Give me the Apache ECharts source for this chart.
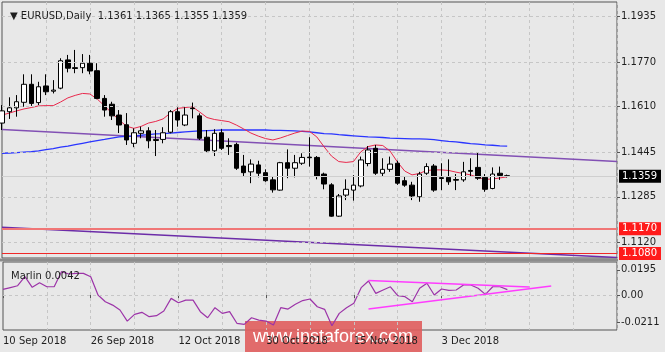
<!DOCTYPE html>
<html>
<head>
<meta charset="utf-8">
<script src="https://cdn.jsdelivr.net/npm/echarts@6/dist/echarts.min.js"></script>
<style>
  html, body { margin: 0; padding: 0; background: #e8e8e8; }
  #chart { width: 665px; height: 352px; }
</style>
</head>
<body>
<div id="chart"></div>
<script>
// EURUSD daily, 10 Sep 2018 .. 14 Dec 2018 (bar slots, extra empty slots on the right)
const slotCount = 85
const tickLabels = { 0: '10 Sep 2018', 12: '26 Sep 2018', 24: '12 Oct 2018', 36: '30 Oct 2018', 48: '15 Nov 2018', 60: '3 Dec 2018' }

const opens = [1.1551,1.1592,1.1606,1.1626,1.1691,1.1625,1.1685,1.1666,1.1677,1.1779,
  1.1751,1.1751,1.1767,1.1740,1.1640,1.1619,1.1580,1.1545,1.1478,1.1514,
  1.1523,1.1488,1.1492,1.1518,1.1592,1.1544,1.1605,1.1577,1.1500,1.1451,
  1.1516,1.1470,1.1474,1.1396,1.1375,1.1400,1.1372,1.1346,1.1309,1.1408,
  1.1388,1.1406,1.1428,1.1427,1.1367,1.1328,1.1215,1.1291,1.1309,1.1324,
  1.1405,1.1460,1.1370,1.1384,1.1406,1.1343,1.1327,1.1285,1.1370,1.1396,
  1.1354,1.1355,1.1347,1.1346,1.1380,1.1391,1.1355,1.1315,1.1370,1.1361]
const closes = [1.1595,1.1606,1.1628,1.1691,1.1622,1.1682,1.1664,1.1670,1.1776,1.1749,
  1.1748,1.1767,1.1739,1.1640,1.1598,1.1577,1.1544,1.1490,1.1516,1.1523,
  1.1487,1.1492,1.1516,1.1592,1.1562,1.1580,1.1603,1.1496,1.1451,1.1514,
  1.1460,1.1466,1.1388,1.1372,1.1403,1.1370,1.1343,1.1310,1.1408,1.1388,
  1.1408,1.1427,1.1426,1.1360,1.1331,1.1215,1.1288,1.1312,1.1327,1.1418,
  1.1454,1.1370,1.1384,1.1403,1.1334,1.1327,1.1288,1.1367,1.1394,1.1309,
  1.1351,1.1339,1.1345,1.1375,1.1377,1.1352,1.1312,1.1367,1.1362,1.1359]
const lows = [1.1526,1.1566,1.1574,1.1610,1.1613,1.1616,1.1652,1.1658,1.1673,1.1734,
  1.1731,1.1731,1.1727,1.1637,1.1574,1.1562,1.1515,1.1472,1.1464,1.1496,
  1.1460,1.1432,1.1478,1.1514,1.1538,1.1540,1.1568,1.1490,1.1444,1.1432,
  1.1454,1.1436,1.1382,1.1357,1.1334,1.1355,1.1339,1.1300,1.1307,1.1352,
  1.1355,1.1400,1.1394,1.1348,1.1312,1.1213,1.1213,1.1273,1.1271,1.1319,
  1.1395,1.1364,1.1357,1.1375,1.1328,1.1321,1.1273,1.1267,1.1364,1.1303,
  1.1309,1.1328,1.1309,1.1339,1.1357,1.1346,1.1303,1.1312,1.1346,1.1355]
const highs = [1.1616,1.1644,1.1652,1.1727,1.1727,1.1700,1.1727,1.1706,1.1785,1.1797,
  1.1815,1.1800,1.1797,1.1767,1.1652,1.1628,1.1598,1.1587,1.1532,1.1538,
  1.1536,1.1526,1.1536,1.1598,1.1608,1.1608,1.1625,1.1586,1.1526,1.1529,
  1.1529,1.1496,1.1480,1.1436,1.1420,1.1415,1.1384,1.1360,1.1411,1.1456,
  1.1436,1.1442,1.1500,1.1432,1.1372,1.1334,1.1295,1.1348,1.1363,1.1430,
  1.1468,1.1472,1.1424,1.1430,1.1415,1.1357,1.1339,1.1375,1.1406,1.1403,
  1.1406,1.1420,1.1367,1.1411,1.1424,1.1444,1.1367,1.1391,1.1394,1.1365]

// fast moving average (red)
const maFast = [1.1580,1.1587,1.1595,1.1602,1.1607,1.1613,1.1614,1.1614,1.1627,1.1642,
  1.1651,1.1658,1.1656,1.1638,1.1613,1.1587,1.1562,1.1540,1.1532,1.1539,
  1.1551,1.1557,1.1566,1.1587,1.1604,1.1607,1.1610,1.1591,1.1571,1.1564,
  1.1560,1.1556,1.1544,1.1530,1.1515,1.1504,1.1495,1.1490,1.1497,1.1506,
  1.1515,1.1522,1.1521,1.1501,1.1465,1.1432,1.1412,1.1409,1.1412,1.1447,
  1.1466,1.1472,1.1470,1.1450,1.1411,1.1378,1.1364,1.1369,1.1380,1.1382,
  1.1382,1.1380,1.1374,1.1369,1.1364,1.1355,1.1348,1.1349,1.1353,1.1357]
// slow moving average (blue)
const maSlow = [1.1442,1.1443,1.1444,1.1446,1.1448,1.1451,1.1455,1.1459,1.1464,1.1468,
  1.1473,1.1478,1.1483,1.1488,1.1492,1.1497,1.1501,1.1503,1.1504,1.1507,
  1.1509,1.1512,1.1513,1.1515,1.1517,1.1519,1.1521,1.1523,1.1524,1.1525,
  1.1526,1.1526,1.1526,1.1526,1.1526,1.1526,1.1526,1.1525,1.1525,1.1524,
  1.1523,1.1521,1.1519,1.1516,1.1513,1.1512,1.1509,1.1507,1.1505,1.1503,
  1.1501,1.1500,1.1499,1.1497,1.1496,1.1495,1.1494,1.1494,1.1493,1.1491,
  1.1488,1.1485,1.1483,1.1480,1.1477,1.1475,1.1472,1.1471,1.1469,1.1468]

// Marlin oscillator
const marlin = [0.0044,0.0058,0.0072,0.0142,0.0060,0.0095,0.0064,0.0064,0.0181,0.0163,
  0.0168,0.0168,0.0142,0.0000,-0.0052,-0.0078,-0.0116,-0.0202,-0.0150,-0.0134,
  -0.0168,-0.0160,-0.0124,-0.0026,-0.0060,-0.0039,-0.0039,-0.0129,-0.0176,-0.0098,
  -0.0142,-0.0129,-0.0219,-0.0227,-0.0176,-0.0194,-0.0202,-0.0233,-0.0098,-0.0109,
  -0.0072,-0.0043,-0.0031,-0.0091,-0.0111,-0.0238,-0.0142,-0.0098,-0.0064,0.0057,
  0.0109,0.0013,0.0039,0.0064,-0.0005,-0.0013,-0.0052,0.0052,0.0091,0.0000,
  0.0047,0.0036,0.0039,0.0078,0.0078,0.0052,0.0005,0.0064,0.0064,0.0042]

// drawn lines: [slot, value]
const trendUpper = [[0, 1.1528], [84, 1.1412]]
const trendLower = [[0, 1.1175], [84, 1.1066]]
const marlinTop = [[50, 0.0112], [72, 0.0062]]
const marlinBottom = [[50, -0.0109], [75, 0.0070]]

const priceTicks = [1.1935, 1.1770, 1.1610, 1.1445, 1.1285, 1.1120]
const marlinTicks = [0.0195, 0, -0.0211]
const lastPrice = 1.1359
const levelHigh = 1.1170
const levelLow = 1.1080

const slots = Array.from({ length: slotCount }, (_, i) => String(i))
const candles = opens.map((o, i) => [o, closes[i], lows[i], highs[i]])

const font = 'DejaVu Sans'
const txt = '#1e1e1e'
const gridLine = { show: true, lineStyle: { color: '#c6c6c6', type: [3, 3], width: 1 } }

function priceLabel (bg, value) {
  return {
    show: true, position: 'end', distance: 2, formatter: value.toFixed(4),
    backgroundColor: bg, color: '#fff', fontFamily: font, fontSize: 10,
    padding: [2, 4, 1, 3]
  }
}

const chart = echarts.init(document.getElementById('chart'), null, { renderer: 'canvas' })

const option = {
  backgroundColor: '#e8e8e8',
  animation: false,
  textStyle: { fontFamily: font },
  title: [
    { text: '\u25BC EURUSD,Daily  1.1361 1.1365 1.1355 1.1359', left: 5, top: 6,
      textStyle: { fontSize: 10, fontWeight: 'normal', color: txt, fontFamily: font } },
    { text: 'Marlin 0.0042', left: 6, top: 266,
      textStyle: { fontSize: 10, fontWeight: 'normal', color: txt, fontFamily: font } }
  ],
  grid: [
    { left: 2, width: 615, top: 2, height: 256, show: true, borderColor: '#555', borderWidth: 1, backgroundColor: 'transparent' },
    { left: 2, width: 615, top: 262, height: 68, show: true, borderColor: '#555', borderWidth: 1, backgroundColor: 'transparent' }
  ],
  xAxis: [
    { type: 'category', gridIndex: 0, data: slots, boundaryGap: false,
      axisLine: { show: false }, axisTick: { show: false }, axisLabel: { show: false },
      splitLine: Object.assign({ interval: i => i % 6 === 0 && i > 0 }, gridLine) },
    { type: 'category', gridIndex: 1, data: slots, boundaryGap: false,
      axisLine: { show: false },
      axisTick: { show: true, interval: i => tickLabels[i] !== undefined, length: 3, lineStyle: { color: '#555' } },
      axisLabel: { show: true, interval: i => tickLabels[i] !== undefined, formatter: (v, i) => tickLabels[i] || '',
        align: 'left', margin: 6, color: txt, fontSize: 10, fontFamily: font },
      splitLine: Object.assign({ interval: i => i % 6 === 0 && i > 0 }, gridLine) }
  ],
  yAxis: [
    { type: 'value', gridIndex: 0, position: 'right', min: 1.1064, max: 1.1988, scale: true,
      splitLine: { show: false }, axisLine: { show: false },
      axisTick: { show: true, length: 3, customValues: priceTicks, lineStyle: { color: '#555' } },
      axisLabel: { customValues: priceTicks, formatter: v => v.toFixed(4), margin: 4, color: txt, fontSize: 10, fontFamily: font } },
    { type: 'value', gridIndex: 1, position: 'right', min: -0.0271, max: 0.0256,
      splitLine: { show: false }, axisLine: { show: false },
      axisTick: { show: true, length: 3, customValues: marlinTicks, lineStyle: { color: '#555' } },
      axisLabel: { customValues: marlinTicks, formatter: v => (v === 0 ? '0.00' : v.toFixed(4)), margin: 4, color: txt, fontSize: 10, fontFamily: font } }
  ],
  series: [
    { // horizontal dashed grid of the price panel
      type: 'line', xAxisIndex: 0, yAxisIndex: 0, data: maSlow, z: 1, silent: true,
      showSymbol: false, lineStyle: { opacity: 0 },
      markLine: { silent: true, symbol: 'none', precision: 4, label: { show: false },
        lineStyle: { color: '#c6c6c6', type: [3, 3], width: 1 },
        data: priceTicks.map(v => ({ yAxis: v })) } },
    { // zero line of the oscillator panel
      type: 'line', xAxisIndex: 1, yAxisIndex: 1, data: marlin, z: 1, silent: true,
      showSymbol: false, lineStyle: { opacity: 0 },
      markLine: { silent: true, symbol: 'none', precision: 4, label: { show: false },
        lineStyle: { color: '#c6c6c6', type: [3, 3], width: 1 },
        data: [{ yAxis: 0 }] } },
    { name: 'trend upper', type: 'line', xAxisIndex: 0, yAxisIndex: 0, data: trendUpper, z: 2,
      showSymbol: false, silent: true, lineStyle: { color: '#8250b4', width: 1.5 } },
    { name: 'trend lower', type: 'line', xAxisIndex: 0, yAxisIndex: 0, data: trendLower, z: 2,
      showSymbol: false, silent: true, lineStyle: { color: '#6c2ca8', width: 1.5 } },
    { name: 'MA slow', type: 'line', xAxisIndex: 0, yAxisIndex: 0, data: maSlow, z: 3,
      showSymbol: false, silent: true, lineStyle: { color: '#2a35ff', width: 1.3 } },
    { name: 'MA fast', type: 'line', xAxisIndex: 0, yAxisIndex: 0, data: maFast, z: 3,
      showSymbol: false, silent: true, lineStyle: { color: '#e8284c', width: 1 } },
    { name: 'EURUSD', type: 'candlestick', xAxisIndex: 0, yAxisIndex: 0, data: candles, z: 4,
      barWidth: 5, silent: true,
      itemStyle: { color: '#ffffff', color0: '#000000', borderColor: '#000000', borderColor0: '#000000', borderWidth: 1 },
      markLine: { silent: true, symbol: 'none', precision: 4,
        data: [
          { yAxis: levelHigh, lineStyle: { color: '#f07676', width: 2, type: 'solid' }, label: priceLabel('#ff1a1a', levelHigh) },
          { yAxis: levelLow, lineStyle: { color: '#f02828', width: 1.2, type: 'solid' }, label: priceLabel('#ff1a1a', levelLow) },
          { yAxis: lastPrice, lineStyle: { color: '#cfcfcf', width: 1, type: 'solid' }, label: priceLabel('#000000', lastPrice) }
        ] } },
    { name: 'Marlin', type: 'line', xAxisIndex: 1, yAxisIndex: 1, data: marlin, z: 3,
      showSymbol: false, silent: true, lineStyle: { color: '#9c34a8', width: 1.2 } },
    { name: 'marlin top', type: 'line', xAxisIndex: 1, yAxisIndex: 1, data: marlinTop, z: 4,
      showSymbol: false, silent: true, lineStyle: { color: '#ff3cff', width: 1.5 } },
    { name: 'marlin bottom', type: 'line', xAxisIndex: 1, yAxisIndex: 1, data: marlinBottom, z: 4,
      showSymbol: false, silent: true, lineStyle: { color: '#ff3cff', width: 1.5 } }
  ],
  graphic: [
    { type: 'rect', shape: { x: 0, y: 258.5, width: 618, height: 3 }, style: { fill: '#8c8c8c' }, z: 50 },
    { type: 'group', z: 100, children: [
      { type: 'rect', shape: { x: 245, y: 321, width: 177, height: 31 }, style: { fill: '#df6060', opacity: 0.92 } },
      { type: 'text', x: 333, y: 337, style: { text: 'www.instaforex.com', fill: '#ffffff', font: '18px "Liberation Sans"', textAlign: 'center', textVerticalAlign: 'middle' } }
    ] }
  ]
}

chart.setOption(option)
</script>
</body>
</html>
